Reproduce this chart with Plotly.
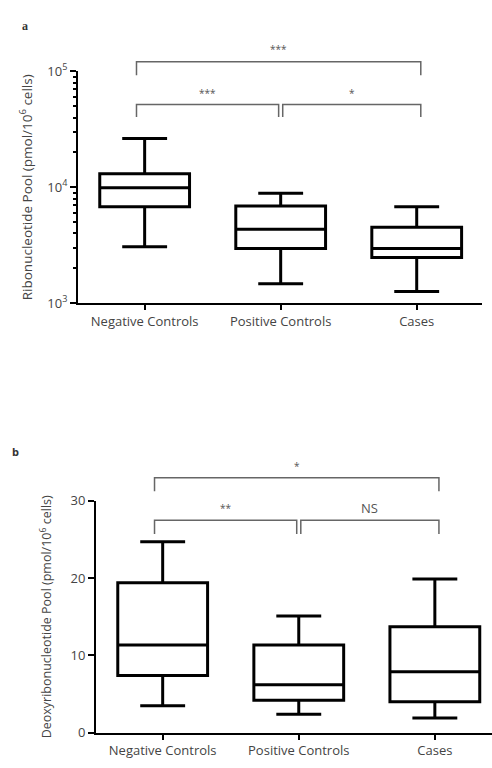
import plotly.graph_objects as go

categories = ["Negative Controls", "Positive Controls", "Cases"]

# Panel a: ribonucleotide pool (log scale)
rib_low = [3070, 1470, 1260]
rib_q1 = [6800, 2960, 2480]
rib_med = [9900, 4350, 2960]
rib_q3 = [13100, 6900, 4520]
rib_high = [26300, 8900, 6800]

# Panel b: deoxyribonucleotide pool
deo_low = [3.5, 2.4, 1.9]
deo_q1 = [7.4, 4.2, 4.0]
deo_med = [11.35, 6.2, 7.9]
deo_q3 = [19.4, 11.35, 13.7]
deo_high = [24.7, 15.1, 19.9]

a_ticks = [1e3, 1e4, 1e5]
a_ticktext = ["10<sup>3</sup>", "10<sup>4</sup>", "10<sup>5</sup>"]
a_minor = [m * d for d in (1e3, 1e4) for m in range(2, 10)]
b_ticks = [0, 10, 20, 30]

# significance brackets: (left, right, level, label)
a_sig = [(0, 2, "top", "***"), (0, 1, "low", "***"), (1, 2, "low", "*")]
b_sig = [(0, 2, "top", "*"), (0, 1, "low", "**"), (1, 2, "low", "NS")]

FONT = "Open Sans"
TXT = "#444444"

fig = go.Figure()
box_style = dict(line=dict(color="black", width=3), fillcolor="white",
                 whiskerwidth=0.5, width=0.66, boxpoints=False,
                 hoverinfo="skip", showlegend=False)
fig.add_trace(go.Box(x=categories, q1=rib_q1, median=rib_med, q3=rib_q3,
                     lowerfence=rib_low, upperfence=rib_high,
                     xaxis="x", yaxis="y", **box_style))
fig.add_trace(go.Box(x=categories, q1=deo_q1, median=deo_med, q3=deo_q3,
                     lowerfence=deo_low, upperfence=deo_high,
                     xaxis="x2", yaxis="y2", **box_style))

W, H = 492, 768
axis_common = dict(showline=True, linecolor="black", linewidth=2,
                   ticks="outside", tickcolor="black", tickwidth=2,
                   showgrid=False, zeroline=False,
                   tickfont=dict(family=FONT, size=13, color=TXT))

fig.update_layout(
    width=W, height=H, margin=dict(l=0, r=0, t=0, b=0),
    paper_bgcolor="white", plot_bgcolor="white",
    xaxis=dict(domain=[78 / W, 482 / W], anchor="y", type="category",
               range=[-0.49, 2.48], ticklen=5, **axis_common),
    yaxis=dict(domain=[1 - 300 / H, 1 - 62 / H], anchor="x", type="log",
               range=[3, 5], tickvals=a_ticks, ticktext=a_ticktext, ticklen=6,
               minor=dict(tickvals=a_minor, ticks="outside", ticklen=3,
                          tickcolor="black", tickwidth=1.5),
               title=dict(text="Ribonucleotide Pool (pmol/10<sup>6</sup> cells)",
                          font=dict(family=FONT, size=13.5, color=TXT), standoff=12),
               **axis_common),
    xaxis2=dict(domain=[96 / W, 1.0], anchor="y2", type="category",
                range=[-0.49, 2.42], ticklen=5, **axis_common),
    yaxis2=dict(domain=[1 - 741 / H, 1 - 503 / H], anchor="x2",
                range=[0, 30], tickvals=b_ticks, ticklen=6,
                title=dict(text="Deoxyribonucleotide Pool (pmol/10<sup>6</sup> cells)",
                           font=dict(family=FONT, size=12.5, color=TXT), standoff=16),
                **axis_common),
)

shapes = []
annots = []
def add_brackets(sig, xref, yref, levels, label_y):
    for left, right, lvl, lab in sig:
        y_bar, y_leg = levels[lvl]
        x0 = left - 0.06 if left == 0 else left + 0.015
        x1 = right + 0.03 if right == 2 else right - 0.015
        pts = f"M{x0},{y_leg} L{x0},{y_bar} L{x1},{y_bar} L{x1},{y_leg}"
        shapes.append(dict(type="path", path=pts, xref=xref, yref=yref + " domain",
                           line=dict(color="#666666", width=1.5)))
        annots.append(dict(x=(x0 + x1) / 2, y=label_y[lvl], xref=xref,
                           yref=yref + " domain", text=lab, showarrow=False,
                           xanchor="center", yanchor="middle",
                           font=dict(family=FONT, size=10 if lab != "NS" else 13,
                                     color="#555555")))

add_brackets(a_sig, "x", "y", {"top": (1.042, 0.983), "low": (0.857, 0.803)},
             {"top": 1.095, "low": 0.905})
add_brackets(b_sig, "x2", "y2", {"top": (1.10, 1.042), "low": (0.916, 0.857)},
             {"top": 1.15, "low": 0.97})

annots.append(dict(x=25 / W, y=1 - 15 / H, xref="paper", yref="paper", text="<b>a</b>",
                   xanchor="center", yanchor="middle", showarrow=False,
                   font=dict(family="Liberation Serif", size=12, color="#333333")))
annots.append(dict(x=15 / W, y=1 - 452 / H, xref="paper", yref="paper", text="<b>b</b>",
                   xanchor="center", yanchor="middle", showarrow=False,
                   font=dict(family=FONT, size=11, color="#333333")))

fig.update_layout(shapes=shapes, annotations=annots)
fig.write_html("out.html", config={"displayModeBar": False},
               post_script="document.body.style.margin='0';document.body.style.overflow='hidden';")
